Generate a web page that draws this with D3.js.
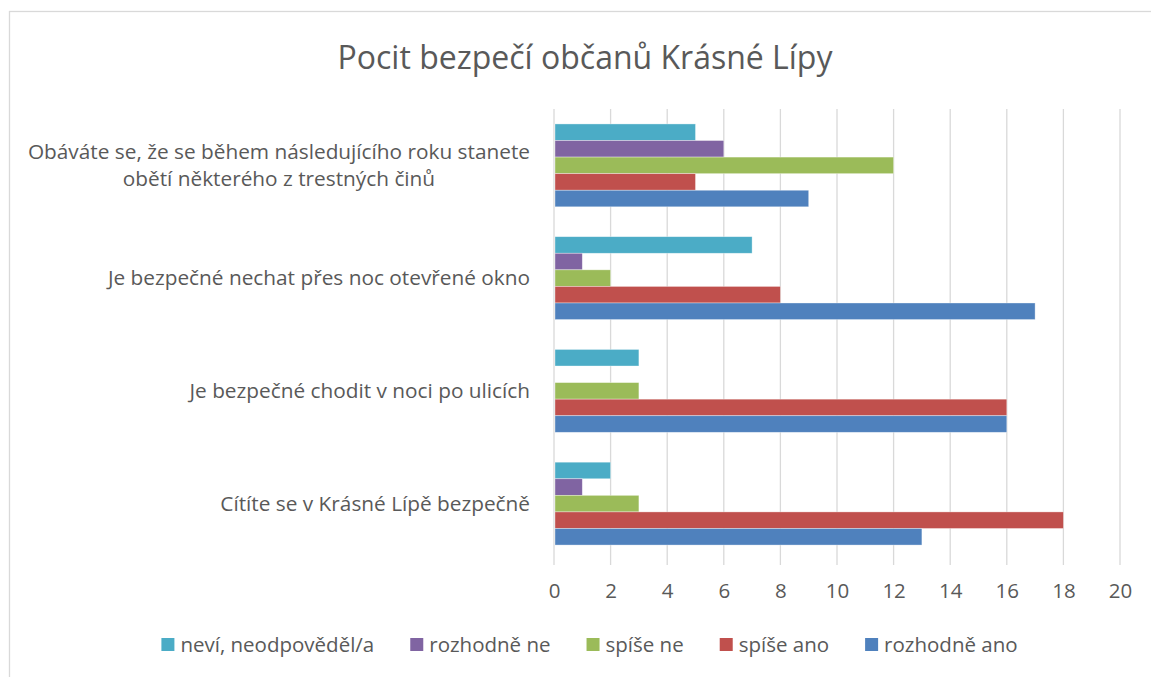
<!DOCTYPE html>
<html>
<head>
<meta charset="utf-8">
<script src="https://cdn.jsdelivr.net/npm/d3@7"></script>
<style>
  body { margin: 0; background: #fff; }
  text { font-family: "Open Sans", sans-serif; fill: #595959; }
</style>
</head>
<body>
<svg id="chart" width="1151" height="677"></svg>
<script>
// data begin ----------------------------------
const title = 'Pocit bezpečí občanů Krásné Lípy';
// categories top to bottom, wrapped lines as in the picture
const categories = [
    ['Obáváte se, že se během následujícího roku stanete', 'obětí některého z trestných činů'],
    ['Je bezpečné nechat přes noc otevřené okno'],
    ['Je bezpečné chodit v noci po ulicích'],
    ['Cítíte se v Krásné Lípě bezpečně']
];
const seriesNames = ['neví, neodpověděl/a', 'rozhodně ne', 'spíše ne', 'spíše ano', 'rozhodně ano'];
const seriesColors = ['#4bacc6', '#8064a2', '#9bbb59', '#c0504d', '#4f81bd'];
const nevi = [5, 7, 3, 2];
const rozhodneNe = [6, 1, 0, 1];
const spiseNe = [12, 2, 3, 3];
const spiseAno = [5, 8, 16, 18];
const rozhodneAno = [9, 17, 16, 13];
const xTicks = [0, 2, 4, 6, 8, 10, 12, 14, 16, 18, 20];
// data end ----------------------------------

const seriesValues = [nevi, rozhodneNe, spiseNe, spiseAno, rozhodneAno];
const svg = d3.select('#chart');

// chart frame
svg.append('rect').attr('x', 9.5).attr('y', 11.5).attr('width', 1160).attr('height', 700)
    .attr('fill', 'none').attr('stroke', '#d9d9d9').attr('stroke-width', 1.3);

const plot = { left: 554, right: 1120, top: 109, bottom: 560 };

const x = d3.scaleLinear().domain([0, 20]).range([plot.left, plot.right]);
const y = d3.scaleBand().domain(d3.range(categories.length))
    .range([plot.top, plot.bottom]).paddingInner(0.265).paddingOuter(0.1325);
const ySub = d3.scaleBand().domain(d3.range(seriesNames.length)).range([0, y.bandwidth()]);

// gridlines
svg.append('g').selectAll('line').data(xTicks).join('line')
    .attr('x1', d => x(d)).attr('x2', d => x(d))
    .attr('y1', plot.top).attr('y2', plot.bottom + 5)
    .attr('stroke', '#d9d9d9').attr('stroke-width', 1.3);

// bars
const rows = [];
categories.forEach((c, ci) => seriesValues.forEach((vals, si) => rows.push({ ci, si, v: vals[ci] })));
svg.append('g').selectAll('rect').data(rows.filter(r => r.v > 0)).join('rect')
    .attr('x', x(0) + 1)
    .attr('y', d => y(d.ci) + ySub(d.si))
    .attr('width', d => x(d.v) - x(0) - 1)
    .attr('height', ySub.bandwidth())
    .attr('fill', d => seriesColors[d.si])
    .attr('stroke', '#fff').attr('stroke-opacity', 0.5).attr('stroke-width', 0.7);

// x axis labels
const xAxis = d3.axisBottom(x).tickValues(xTicks).tickSize(0).tickPadding(0);
const gx = svg.append('g').attr('transform', 'translate(0,' + 598 + ')').call(xAxis);
gx.select('.domain').remove();
gx.selectAll('text').attr('dy', 0).style('font-size', '20.5px')
    .style('font-family', '"Open Sans", sans-serif').attr('fill', '#595959');

// category labels: right aligned block, wrapped lines centred in it
const labelRight = 530;
categories.forEach((lines, ci) => {
    const cy = y(ci) + y.bandwidth() / 2;
    const g = svg.append('g');
    const lineH = 27;
    const texts = lines.map((ln, li) => g.append('text')
        .attr('y', cy + 7 + (li - (lines.length - 1) / 2) * lineH)
        .style('font-size', '20.8px').text(ln));
    const widths = texts.map(t => t.node().getComputedTextLength());
    const blockW = d3.max(widths);
    const cx = labelRight - blockW / 2;
    texts.forEach(t => t.attr('x', cx).attr('text-anchor', 'middle'));
});

// title
svg.append('text').attr('x', 585).attr('y', 69).attr('text-anchor', 'middle')
    .style('font-size', '32px').text(title);

// legend
const legend = svg.append('g');
let lx = 0;
seriesNames.forEach((name, i) => {
    const item = legend.append('g').attr('transform', 'translate(' + lx + ',0)');
    item.append('rect').attr('x', 0).attr('y', -6.5).attr('width', 13).attr('height', 13).attr('fill', seriesColors[i]);
    const t = item.append('text').attr('x', 19).attr('y', 7).style('font-size', '20.5px').text(name);
    lx += 19 + t.node().getComputedTextLength() + 36;
});
const legendW = lx - 36;
legend.attr('transform', 'translate(' + (589.5 - legendW / 2) + ',644.5)');
</script>
</body>
</html>
